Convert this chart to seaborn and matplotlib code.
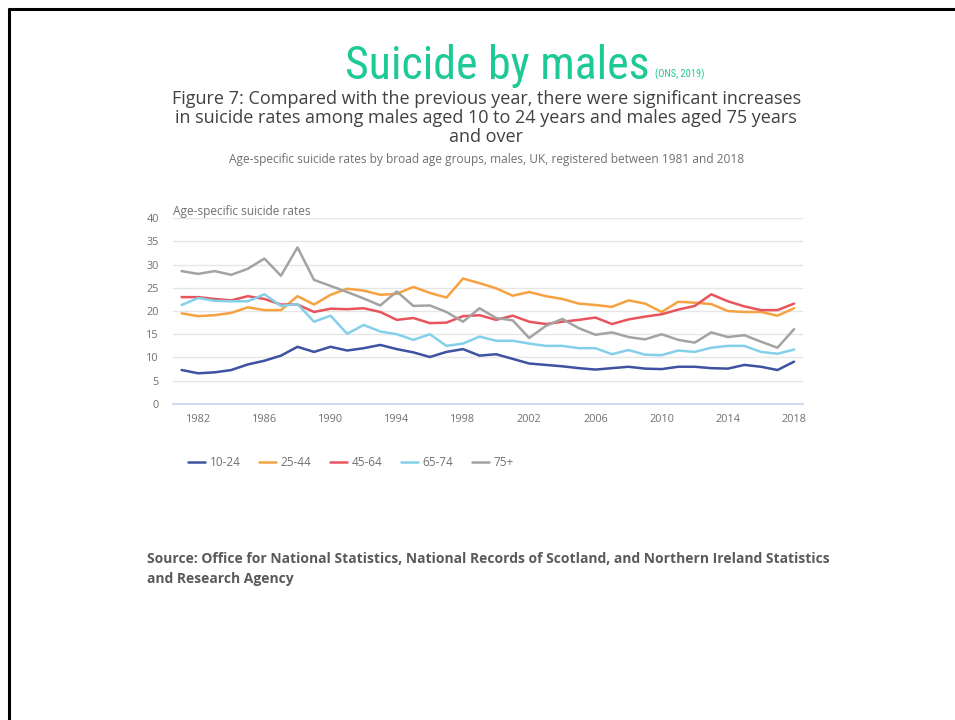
import matplotlib
matplotlib.use("Agg")
import matplotlib.pyplot as plt
from matplotlib.lines import Line2D
import numpy as np
import pandas as pd
import seaborn as sns

years = list(range(1981, 2019))

rate_10_24 = [7.3, 6.6, 6.8, 7.3, 8.5, 9.3, 10.4, 12.3, 11.2, 12.3,
              11.5, 12.0, 12.7, 11.8, 11.1, 10.1, 11.2, 11.8, 10.4, 10.7,
              9.7, 8.7, 8.4, 8.1, 7.7, 7.4, 7.7, 8.0, 7.6, 7.5,
              8.0, 8.0, 7.7, 7.6, 8.4, 8.0, 7.3, 9.1]
rate_25_44 = [19.5, 18.9, 19.1, 19.6, 20.8, 20.2, 20.2, 23.2, 21.4, 23.5,
              24.8, 24.4, 23.5, 23.7, 25.2, 23.9, 22.9, 27.0, 26.0, 24.9,
              23.3, 24.1, 23.2, 22.6, 21.6, 21.3, 20.9, 22.3, 21.6, 19.8,
              22.0, 21.8, 21.5, 20.0, 19.8, 19.8, 19.0, 20.6]
rate_45_64 = [23.0, 23.0, 22.6, 22.3, 23.2, 22.6, 21.4, 21.4, 19.8, 20.5,
              20.4, 20.6, 19.8, 18.1, 18.5, 17.4, 17.5, 18.9, 19.1, 18.1,
              19.0, 17.7, 17.2, 17.7, 18.1, 18.6, 17.2, 18.2, 18.8, 19.3,
              20.3, 21.1, 23.6, 22.1, 21.0, 20.2, 20.2, 21.6]
rate_65_74 = [21.3, 22.8, 22.2, 22.1, 22.1, 23.6, 21.1, 21.5, 17.7, 19.0,
              15.1, 17.0, 15.6, 15.0, 13.8, 15.0, 12.5, 13.0, 14.5, 13.6,
              13.6, 13.0, 12.5, 12.5, 12.0, 12.0, 10.7, 11.6, 10.6, 10.5,
              11.5, 11.2, 12.1, 12.5, 12.5, 11.2, 10.8, 11.7]
rate_75_plus = [28.6, 28.0, 28.6, 27.8, 29.1, 31.3, 27.6, 33.7, 26.7, 25.4,
                24.1, 22.7, 21.2, 24.2, 21.1, 21.2, 19.8, 17.7, 20.6, 18.5,
                18.0, 14.2, 16.8, 18.3, 16.3, 14.9, 15.4, 14.4, 13.9, 15.0,
                13.8, 13.2, 15.4, 14.4, 14.8, 13.4, 12.1, 16.1]

age_groups = ["10-24", "25-44", "45-64", "65-74", "75+"]
series = [rate_10_24, rate_25_44, rate_45_64, rate_65_74, rate_75_plus]
colors = ["#3d52a1", "#f7a241", "#e9545c", "#84d0ea", "#a3a3a3"]

x_ticks = [1982, 1986, 1990, 1994, 1998, 2002, 2006, 2010, 2014, 2018]
y_ticks = [0, 5, 10, 15, 20, 25, 30, 35, 40]

df = pd.DataFrame({
    "year": np.tile(years, len(age_groups)),
    "rate": np.concatenate(series),
    "age": np.repeat(age_groups, len(years)),
})

sns.set_theme(style="white")
plt.rcParams["font.family"] = ["Open Sans", "DejaVu Sans"]

fig = plt.figure(figsize=(9.55, 7.2), dpi=100)
ax = fig.add_axes([0.181, 0.439, 0.660, 0.258])

sns.lineplot(data=df, x="year", y="rate", hue="age", hue_order=age_groups,
             palette=colors, linewidth=1.8, ax=ax, legend=False)

ax.set_xlim(1980.47, 2018.55)
ax.set_ylim(0, 40)
ax.set_xticks(x_ticks)
ax.set_yticks(y_ticks)
ax.tick_params(axis="both", labelsize=7.8, colors="#707070")
ax.tick_params(axis="x", length=4, width=1, color="#c5d4ee", pad=3)
ax.tick_params(axis="y", length=0, pad=10)
ax.grid(axis="y", color="#e6e6e6", linewidth=1)
ax.set_axisbelow(True)
for side in ["top", "right", "left"]:
    ax.spines[side].set_visible(False)
ax.spines["bottom"].set_color("#c5d4ee")
ax.spines["bottom"].set_linewidth(1.2)
ax.set_xlabel("")
ax.set_ylabel("")
ax.text(0.0, 1.0, "Age-specific suicide rates", transform=ax.transAxes,
        ha="left", va="bottom", fontsize=8.6, color="#707070")

handles = [Line2D([0], [0], color=c, linewidth=1.8) for c in colors]
fig.legend(handles, age_groups, loc="center left", bbox_to_anchor=(0.186, 0.357),
           ncol=5, frameon=False, fontsize=8.5, handlelength=1.45,
           handletextpad=0.35, columnspacing=1.6, labelcolor="#707070")

# slide heading
fig.text(0.521, 0.909, "Suicide by males", ha="center", va="center",
         fontsize=33, color="#1dc994",
         family=["Roboto Condensed", "Roboto", "DejaVu Sans"])
fig.text(0.686, 0.897, "(ONS, 2019)", ha="left", va="center",
         fontsize=7.5, color="#1dc994",
         family=["Roboto Condensed", "Roboto", "DejaVu Sans"])

fig.text(0.509, 0.836,
         "Figure 7: Compared with the previous year, there were significant increases\n"
         "in suicide rates among males aged 10 to 24 years and males aged 75 years\n"
         "and over",
         ha="center", va="center", fontsize=13, color="#414042", linespacing=1.1)
fig.text(0.51, 0.778,
         "Age-specific suicide rates by broad age groups, males, UK, registered between 1981 and 2018",
         ha="center", va="center", fontsize=8.6, color="#707070")

fig.text(0.154, 0.21,
         "Source: Office for National Statistics, National Records of Scotland, and Northern Ireland Statistics\n"
         "and Research Agency",
         ha="left", va="center", fontsize=10, color="#5a5a5a", fontweight="bold",
         linespacing=1.55)

# slide frame
fig.add_artist(Line2D([0.009, 1.0], [0.988, 0.988], transform=fig.transFigure,
                      color="black", linewidth=2.2))
fig.add_artist(Line2D([0.009, 0.009], [0.0, 0.988], transform=fig.transFigure,
                      color="black", linewidth=2.2))

fig.savefig("out.png", dpi=100, facecolor="white")
